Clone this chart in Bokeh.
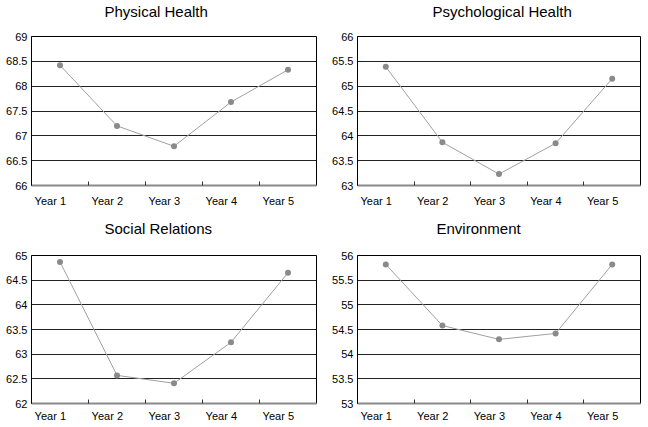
from bokeh.plotting import figure
from bokeh.layouts import column, row
from bokeh.models import FixedTicker, NumeralTickFormatter, Range1d, Title
from bokeh.embed import file_html
from bokeh.resources import INLINE

years = ["Year 1", "Year 2", "Year 3", "Year 4", "Year 5"]
year_idx = [1, 2, 3, 4, 5]

physical = [68.42, 67.20, 66.79, 67.68, 68.33]
psychological = [65.39, 63.87, 63.23, 63.85, 65.15]
social = [64.87, 62.57, 62.41, 63.24, 64.65]
environment = [55.82, 54.58, 54.30, 54.42, 55.82]

titles = ["Physical Health", "Psychological Health", "Social Relations", "Environment"]
y_ranges = [(66, 69), (63, 66), (62, 65), (53, 56)]
y_step = 0.5

FONT = "Liberation Sans"
LABEL_SHIFT = 0.17  # tick labels sit slightly left of the category centres


def make_panel(title, values, yr, w, h, bl, br, bt, bb, t_off, t_stand, gap, x_stand):
    p = figure(width=w, height=h, output_backend="svg", toolbar_location=None,
               x_range=Range1d(0.5, 5.5), y_range=Range1d(yr[0], yr[1]),
               min_border_left=bl, min_border_right=br,
               min_border_top=bt, min_border_bottom=bb,
               background_fill_color="white", border_fill_color="white")
    p.title.text = title
    p.title.text_font = FONT
    p.title.text_font_size = "15px"
    p.title.text_font_style = "normal"
    p.title.text_color = "black"
    p.title.align = "left"
    p.title.vertical_align = "top"
    p.title.offset = t_off
    p.title.standoff = t_stand
    # thin spacer between the title and the frame
    p.add_layout(Title(text=" ", text_font_size="1px", standoff=gap), "above")

    p.outline_line_color = "black"
    p.outline_line_width = 1
    p.outline_line_alpha = 1

    n = int(round((yr[1] - yr[0]) / y_step))
    yt = [yr[0] + i * y_step for i in range(n + 1)]
    p.yaxis.ticker = FixedTicker(ticks=yt)
    p.yaxis.formatter = NumeralTickFormatter(format="0.[0]")
    p.yaxis.major_tick_out = 0
    p.yaxis.major_tick_in = 0
    p.yaxis.minor_tick_out = 0
    p.yaxis.minor_tick_in = 0
    p.yaxis.axis_line_color = "black"
    p.yaxis.major_label_text_font = FONT
    p.yaxis.major_label_text_font_size = "11px"
    p.yaxis.major_label_text_color = "black"
    p.yaxis.major_label_standoff = 4

    label_pos = [round(i - LABEL_SHIFT, 2) for i in year_idx]
    p.xaxis.ticker = FixedTicker(ticks=label_pos,
                                 minor_ticks=[i + 0.5 for i in year_idx[:-1]])
    p.xaxis.major_label_overrides = {pos: lab for pos, lab in zip(label_pos, years)}
    p.xaxis.major_tick_out = 0
    p.xaxis.major_tick_in = 0
    p.xaxis.minor_tick_out = 0
    p.xaxis.minor_tick_in = 4
    p.xaxis.minor_tick_line_color = "#333333"
    p.xaxis.axis_line_color = "#8a8a8a"
    p.xaxis.axis_line_width = 2
    p.xaxis.major_label_text_font = FONT
    p.xaxis.major_label_text_font_size = "11px"
    p.xaxis.major_label_text_color = "black"
    p.xaxis.major_label_standoff = x_stand

    p.xgrid.grid_line_color = None
    p.ygrid.grid_line_color = "#222222"
    p.ygrid.grid_line_width = 1

    p.line(year_idx, values, line_color="#a0a0a0", line_width=1)
    p.scatter(year_idx, values, size=6, fill_color="#8a8a8a", line_color=None)
    return p


p1 = make_panel(titles[0], physical, y_ranges[0], 324, 213, 31, 8, 36, 28, 73, 5, 9, 9)
p2 = make_panel(titles[1], psychological, y_ranges[1], 324, 213, 33, 8, 36, 28, 75, 5, 9, 9)
p3 = make_panel(titles[2], social, y_ranges[2], 324, 214, 31, 8, 42, 24, 73, 13, 7, 6)
p4 = make_panel(titles[3], environment, y_ranges[3], 324, 214, 33, 8, 42, 24, 79, 13, 7, 6)

layout = column(row(p1, p2), row(p3, p4))

open("out.html", "w").write(file_html(layout, INLINE))
